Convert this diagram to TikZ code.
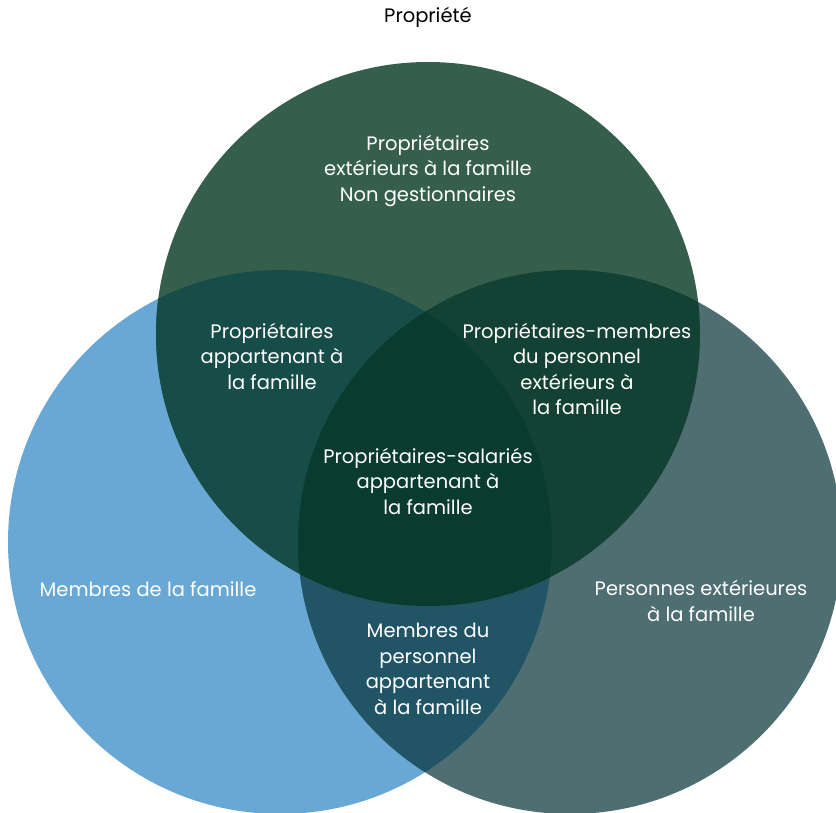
\documentclass[tikz,border=0pt]{standalone}
\usepackage{fontspec}
\setmainfont{Poppins}
\definecolor{cblue}{HTML}{69A8D4}
\definecolor{cslate}{HTML}{4F6E72}
\definecolor{ctop}{HTML}{355E4D}
\definecolor{cLR}{HTML}{215566}
\definecolor{cTL}{HTML}{174D48}
\definecolor{cTR}{HTML}{134234}
\definecolor{cTLR}{HTML}{093B2F}
\begin{document}
\begin{tikzpicture}[x=1pt,y=-1pt,
  lbl/.style={text=white,font=\fontsize{19.5}{25.5}\selectfont,align=center,inner sep=0pt},
  ttl/.style={text=black,font=\fontsize{19.5}{22}\selectfont,inner sep=0pt}]
\useasboundingbox (0,0) rectangle (836,813);
\clip (0,0) rectangle (836,813);
\def\Lc{(280,542) circle (272)}
\def\Rc{(570,542) circle (272)}
\def\Tc{(428,334) circle (272)}
\fill[cblue] \Lc;
\fill[cslate] \Rc;
\begin{scope}\clip \Lc; \fill[cLR] \Rc; \end{scope}
\fill[ctop] \Tc;
\begin{scope}\clip \Tc; \fill[cTL] \Lc; \fill[cTR] \Rc;
  \clip \Lc; \fill[cTLR] \Rc; \end{scope}
\node[ttl] (title) at (428,17) {Propriété};
\node[lbl] (top) at (428,171) {Propriétaires\\extérieurs à la famille\\Non gestionnaires};
\node[lbl] (tl) at (272,356) {Propriétaires\\appartenant à\\la famille};
\node[lbl] (tr) at (577,369) {Propriétaires-membres\\du personnel\\extérieurs à\\la famille};
\node[lbl] (ctr) at (428,481) {Propriétaires-salariés\\appartenant à\\la famille};
\node[lbl] (bot) at (428,669) {Membres du\\personnel\\appartenant\\à la famille};
\node[lbl] (left) at (148,589) {Membres de la famille};
\node[lbl] (right) at (701,601) {Personnes extérieures\\à la famille};
\end{tikzpicture}
\end{document}
